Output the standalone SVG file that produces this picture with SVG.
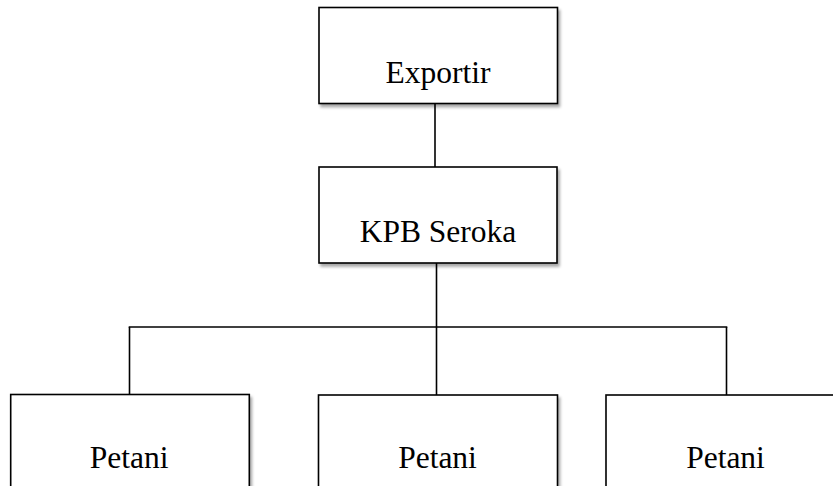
<svg xmlns="http://www.w3.org/2000/svg" width="833" height="486" viewBox="0 0 833 486">
<defs>
<filter id="sh" x="-10%" y="-10%" width="125%" height="130%">
<feGaussianBlur in="SourceAlpha" stdDeviation="1.5"/>
<feOffset dx="2" dy="3" result="b"/>
<feComponentTransfer><feFuncA type="linear" slope="0.35"/></feComponentTransfer>
<feMerge><feMergeNode/><feMergeNode in="SourceGraphic"/></feMerge>
</filter>
</defs>
<style>
.box{fill:#fff;stroke:#000;stroke-width:1.6;filter:url(#sh)}
.lbl{font-family:"Liberation Serif","Times New Roman",serif;font-size:31.5px;fill:#000;text-anchor:middle}
.con{stroke:#000;stroke-width:1.6;fill:none}
</style>
<rect width="833" height="486" fill="#fff"/>
<g id="connectors">
<line class="con" x1="435" y1="103.5" x2="435" y2="167"/>
<line class="con" x1="436.5" y1="263" x2="436.5" y2="327"/>
<line class="con" x1="128.7" y1="327" x2="727.3" y2="327"/>
<line class="con" x1="129.5" y1="327" x2="129.5" y2="394.5"/>
<line class="con" x1="436.5" y1="327" x2="436.5" y2="395"/>
<line class="con" x1="726.5" y1="327" x2="726.5" y2="395"/>
</g>
<g id="exportir">
<rect class="box" x="319" y="7.5" width="238.5" height="96"/>
<text class="lbl" x="438" y="83.3">Exportir</text>
</g>
<g id="kpb">
<rect class="box" x="319" y="167" width="238" height="96"/>
<text class="lbl" x="438" y="241.7">KPB Seroka</text>
</g>
<g id="petani1">
<rect class="box" x="10.7" y="394.5" width="238.6" height="110"/>
<text class="lbl" x="129.2" y="468.3">Petani</text>
</g>
<g id="petani2">
<rect class="box" x="318.5" y="395" width="239" height="110"/>
<text class="lbl" x="437.5" y="468.3">Petani</text>
</g>
<g id="petani3">
<rect class="box" x="606" y="395" width="240" height="110"/>
<text class="lbl" x="725.5" y="468.3">Petani</text>
</g>
</svg>
